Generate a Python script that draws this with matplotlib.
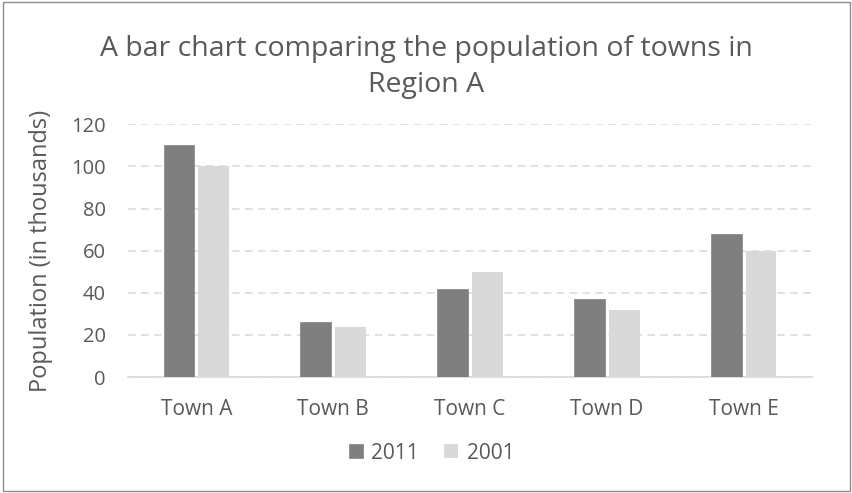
import numpy as np
import matplotlib.pyplot as plt
from matplotlib.patches import Rectangle

towns = ["Town A", "Town B", "Town C", "Town D", "Town E"]
pop_2011 = [110, 26, 42, 37, 68]
pop_2001 = [100, 24, 50, 32, 60]
yticks = [0, 20, 40, 60, 80, 100, 120]

text_col = "#595959"
plt.rcParams["font.family"] = ["Open Sans", "DejaVu Sans"]

fig = plt.figure(figsize=(8.53, 4.93), dpi=100)
ax = fig.add_axes([0.150, 0.235, 0.802, 0.513])

x = np.arange(len(towns))
w = 0.225
gap = 0.03
ax.bar(x - (w + gap) / 2, pop_2011, w, color="#7f7f7f", edgecolor="#8c8c8c",
       linewidth=0.6, label="2011", zorder=3)
ax.bar(x + (w + gap) / 2, pop_2001, w, color="#d9d9d9", label="2001", zorder=3)

ax.set_xlim(-0.5, len(towns) - 0.5)
ax.set_ylim(0, 120)
ax.set_yticks(yticks)
ax.set_xticks(x)
ax.set_xticklabels(towns)
ax.tick_params(length=0, colors=text_col)
ax.tick_params(axis="x", labelsize=15, pad=16)
ax.tick_params(axis="y", labelsize=14.5, pad=16)

ax.yaxis.grid(True, color="#d9d9d9", linestyle=(0, (5, 3.5)), linewidth=1.1, zorder=0)
for s in ["top", "right", "left"]:
    ax.spines[s].set_visible(False)
ax.spines["bottom"].set_color("#d9d9d9")
ax.spines["bottom"].set_linewidth(1.2)

ax.set_ylabel("Population (in thousands)", fontsize=17, color=text_col)
ax.yaxis.set_label_coords(-0.110, 0.5)
fig.text(0.5, 0.929, "A bar chart comparing the population of towns in\nRegion A",
         ha="center", va="top", fontsize=20.5, color=text_col, linespacing=1.38)

fig.legend(loc="center", bbox_to_anchor=(0.506, 0.081), ncol=2, frameon=False,
           fontsize=15, labelcolor=text_col, handlelength=0.68, handleheight=0.68,
           handletextpad=0.4, columnspacing=1.2)

fig.patches.append(Rectangle((0.003, 0.004), 0.994, 0.992, transform=fig.transFigure,
                             fill=False, edgecolor="#8c8c8c", linewidth=1.0))

plt.savefig("out.png", dpi=100)
